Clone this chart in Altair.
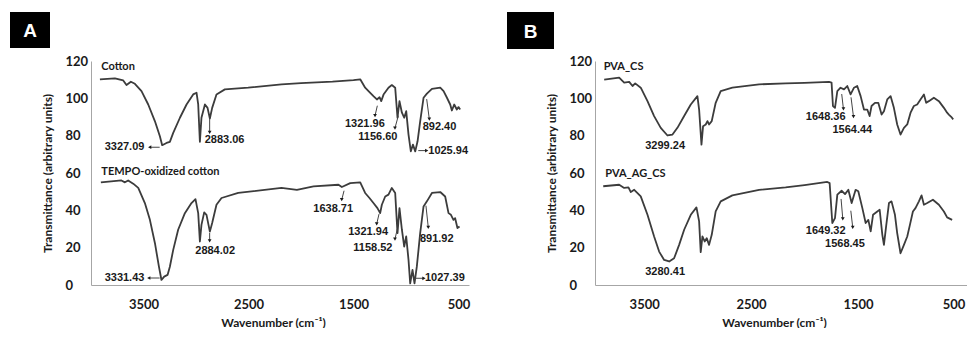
import altair as alt
import pandas as pd

# ---------------- Panel A: cotton / TEMPO-oxidized cotton ----------------
cotton_w = [3915, 3772, 3693, 3662, 3620, 3582, 3519, 3455, 3391, 3344, 3322, 3281, 3249, 3217, 3153,
            3090, 3027, 2995, 2979, 2963, 2948, 2915, 2890, 2868, 2846, 2805, 2725, 2503, 2186, 2000,
            1700, 1500, 1436, 1389, 1357, 1310, 1277, 1252, 1236, 1214, 1167, 1135, 1103, 1081, 1062,
            1039, 1017, 998, 976, 954, 934, 912, 890, 865, 833, 801, 753, 674, 642, 610, 579, 563,
            541, 516, 500, 484]
cotton_t = [110.2, 110.7, 109.6, 107.1, 108.9, 107.8, 103.9, 96.7, 87.7, 79.7, 74.9, 76.1, 76.7, 81.5, 89.6,
            96.7, 102.1, 103, 96.7, 76.7, 89.6, 96.7, 94.9, 89.2, 94.9, 102.1, 104.8, 105.7, 107.5, 108.2,
            109, 109.8, 110.2, 105.7, 103.9, 101.2, 99.4, 100.6, 98.5, 102, 105.7, 107.1, 105.7, 89.6, 98.5,
            92.3, 89.6, 93.1, 80.6, 71.6, 75.2, 71.6, 77, 87.7, 100.3, 102.5, 105.1, 105.7, 103.9, 100.3,
            96.7, 93.5, 96.7, 94, 95.3, 94]

tempo_w = [3906, 3710, 3677, 3646, 3598, 3550, 3487, 3439, 3391, 3353, 3329, 3303, 3271, 3249, 3217,
           3170, 3106, 3043, 3005, 2979, 2963, 2948, 2922, 2900, 2868, 2846, 2805, 2757, 2598, 2186,
           2039, 1881, 1643, 1611, 1531, 1436, 1389, 1348, 1310, 1272, 1246, 1230, 1198, 1167, 1135,
           1103, 1081, 1062, 1039, 1017, 998, 976, 960, 938, 919, 897, 865, 833, 801, 753, 674, 627,
           595, 572, 548, 532, 510, 490]
tempo_t = [55, 56, 55, 56, 54.3, 52, 43.9, 34.9, 22.4, 9.8, 2.7, 4.5, 5.4, 9.8, 18.8,
           29.6, 38.5, 43.9, 46, 38.5, 23.3, 32.2, 38.9, 37.6, 28.6, 33.2, 43, 46.6, 49.3, 52,
           51, 52.8, 53.7, 52.5, 54.6, 55, 49.3, 46.6, 43.9, 41.2, 38.5, 43, 47.4, 48.4, 52,
           49.3, 27.8, 41.2, 29.6, 20.6, 26, 13.4, 0.9, 8.1, 0.9, 9.8, 27.8, 42.1, 44.8, 49.3, 49.8, 47.4,
           38.5, 37.6, 34.9, 35.8, 30.5, 31.3]

# ---------------- Panel B: PVA_CS / PVA_AG_CS ----------------
pva_w = [3874, 3734, 3687, 3640, 3609, 3584, 3532, 3469, 3407, 3345, 3282, 3235, 3189, 3126, 3064,
         3002, 2986, 2964, 2949, 2924, 2908, 2893, 2868, 2831, 2784, 2675, 2425, 2177, 2000, 1771,
         1747, 1734, 1715, 1693, 1663, 1631, 1600, 1569, 1537, 1507, 1475, 1444, 1413, 1391, 1373,
         1341, 1310, 1279, 1257, 1226, 1195, 1164, 1133, 1102, 1070, 1039, 1008, 977, 946, 915,
         883, 862, 837, 790, 743, 696, 666, 650, 628, 609]
pva_t = [110, 111.1, 108.4, 108.8, 106.6, 108, 105.7, 98.5, 90.5, 84.2, 80.1, 80.6, 84.2, 90.5, 96.7,
         101.2, 94, 75.2, 85.1, 86, 87.8, 86, 87.8, 97.6, 103.9, 105.7, 107.5, 108, 108.3, 108.8,
         108.4, 95.9, 94.9, 103.9, 105.7, 104.8, 106.6, 102.1, 105.7, 106.6, 101.2, 94, 94, 90.5, 95.9,
         97.6, 97.6, 91.3, 93.1, 99.4, 101.2, 94.9, 86, 80.6, 84.2, 86, 92.3, 95.9, 96.7, 99.4,
         102.1, 97.6, 98.5, 100.3, 98.5, 94.9, 92.3, 91.3, 90.1, 88.7]

ag_w = [3883, 3734, 3687, 3647, 3625, 3593, 3532, 3469, 3407, 3360, 3313, 3266, 3220, 3173, 3126,
        3064, 3011, 2986, 2971, 2955, 2934, 2915, 2893, 2868, 2831, 2784, 2675, 2425, 2177, 2000,
        1787, 1765, 1740, 1715, 1693, 1653, 1621, 1590, 1559, 1522, 1497, 1459, 1428, 1403, 1381,
        1359, 1319, 1297, 1272, 1257, 1235, 1210, 1186, 1154, 1133, 1102, 1070, 1039, 1014, 986,
        962, 930, 905, 883, 852, 799, 743, 696, 666, 619]
ag_t = [52.9, 53.7, 52, 52.3, 49.8, 51, 47.5, 37.6, 26, 17.9, 13.4, 12.6, 14.3, 21.5, 29.6,
        37.6, 41.6, 34.1, 17.6, 26, 23.3, 25.1, 21.5, 26.9, 39.4, 44.8, 48, 51, 52.3, 53.5,
        55.2, 54.6, 33.2, 35.8, 48.4, 50.5, 48.7, 51, 43.9, 51, 50.2, 41.2, 33.2, 34.9, 28.7,
        37.6, 39.4, 40.3, 26.9, 21.5, 32.2, 43.9, 44.8, 37.6, 27.8, 17, 21.5, 26, 32.2, 39.4,
        41.2, 44.8, 48, 43, 43.9, 45.7, 43, 39.4, 36.2, 34.9]

# ---------------- Text labels (anchor in data units) ----------------
a_names = ["Cotton", "TEMPO-oxidized cotton"]
a_names_w = [3902, 3902]
a_names_t = [116.6, 60.4]

a_peaks = ["3327.09", "2883.06", "1321.96", "1156.60", "892.40", "1025.94",
           "3331.43", "2884.02", "1638.71", "1321.94", "1158.52", "891.92", "1027.39"]
a_peaks_w = [3870, 2917, 1581, 1454, 841, 788, 3870, 3007, 1883, 1550, 1502, 867, 819]
a_peaks_t = [73.8, 77.7, 86.25, 79.4, 84.8, 72.0, 3.75, 18.4, 40.7, 28.6, 19.7, 24.6, 3.6]

a_arrow_w1 = [2870, 1273, 1073, 803, 2870, 1590, 1257, 1083, 810, 3346, 3346, 883, 914]
a_arrow_t1 = [88.9, 96.05, 90.7, 99.6, 27.9, 50.5, 38.0, 30.0, 42.5, 73.8, 3.75, 72.0, 3.6]
a_arrow_w2 = [2870, 1295, 1105, 778, 2870, 1612, 1279, 1105, 788, 3441, 3450, 803, 829]
a_arrow_t2 = [81.8, 90.7, 84.1, 88.9, 23.7, 45.7, 32.7, 24.6, 30.9, 73.8, 3.75, 72.0, 3.6]
a_arrow_dir = ["down", "down", "down", "down", "down", "down", "down", "down", "down",
               "left", "left", "right", "right"]

b_names = ["PVA_CS", "PVA_AG_CS"]
b_names_w = [3879, 3864]
b_names_t = [116.6, 59.5]

b_peaks = ["3299.24", "1648.36", "1564.44", "3280.41", "1649.32", "1568.45"]
b_peaks_w = [3490, 1988, 1739, 3490, 1988, 1808]
b_peaks_t = [74.6, 89.8, 83.0, 6.8, 29.1, 22.0]

b_arrow_w1 = [1652, 1565, 1658, 1567]
b_arrow_t1 = [102.3, 100.55, 46.1, 39.8]
b_arrow_w2 = [1636, 1542, 1642, 1549]
b_arrow_t2 = [94.3, 90.2, 35.4, 30.9]
b_arrow_dir = ["down", "down", "down", "down"]

y_ticks = [0, 20, 40, 60, 80, 100, 120]
x_ticks = [3500, 2500, 1500, 500]

LINE = "#3c3c3c"
AXIS = "#a6a6a6"
TXT = "#1a1a1a"


def panel(letter, series, names, peaks, arrows, x_dom, width, box, flush):
    spec = pd.concat([pd.DataFrame({"w": w, "t": t, "s": s}) for (w, t, s) in series])
    x_enc = alt.X("w:Q", scale=alt.Scale(domain=x_dom, reverse=True, nice=False, zero=False),
                  axis=alt.Axis(values=x_ticks, format="d", title="Wavenumber (cm\u207b\u00b9)",
                                grid=False, ticks=False, tickSize=0, domainColor=AXIS,
                                labelOverlap=False, labelFlush=flush,
                                labelFont="Lato", labelFontWeight="bold", labelFontSize=13,
                                labelColor=TXT, labelPadding=13,
                                titleFont="Lato", titleFontWeight="bold", titleFontSize=12,
                                titleColor=TXT, titlePadding=6, titleX=width / 2 - 7))
    y_enc = alt.Y("t:Q", scale=alt.Scale(domain=[0, 120], nice=False, zero=False),
                  axis=alt.Axis(values=y_ticks, title="Transmittance (arbitrary units)",
                                grid=False, ticks=False, tickSize=0, domainColor=AXIS,
                                labelOverlap=False, labelAlign="left", labelPadding=26,
                                labelFont="Lato", labelFontWeight="bold", labelFontSize=13,
                                labelColor=TXT,
                                titleFont="Lato", titleFontWeight="bold", titleFontSize=12,
                                titleColor=TXT, titlePadding=11))
    lines = alt.Chart(spec).mark_line(color=LINE, strokeWidth=1.8, strokeJoin="round").encode(
        x=x_enc, y=y_enc, detail="s:N")

    ndf = pd.DataFrame({"w": names[1], "t": names[2], "label": names[0]})
    name_txt = alt.Chart(ndf).mark_text(align="left", baseline="middle", font="Lato",
                                        fontWeight="bold", fontSize=11, color=TXT).encode(
        x=x_enc, y=y_enc, text="label:N")

    pdf = pd.DataFrame({"w": peaks[1], "t": peaks[2], "label": peaks[0]})
    peak_txt = alt.Chart(pdf).mark_text(align="left", baseline="middle", font="Liberation Sans",
                                        fontWeight="bold", fontSize=11, color=TXT).encode(
        x=x_enc, y=y_enc, text="label:N")

    adf = pd.DataFrame({"w": arrows[0], "t": arrows[1], "w2": arrows[2], "t2": arrows[3]})
    arrow_rule = alt.Chart(adf).mark_rule(color="#444444", strokeWidth=1).encode(
        x=x_enc, y=y_enc, x2="w2:Q", y2="t2:Q")
    hdf = pd.DataFrame({"w": arrows[2], "t": arrows[3], "dir": arrows[4]})
    arrow_head = alt.Chart(hdf).mark_point(filled=True, size=14, color=TXT, opacity=1).encode(
        x=x_enc, y=y_enc,
        shape=alt.Shape("dir:N", legend=None,
                        scale=alt.Scale(domain=["down", "left", "right"],
                                        range=["triangle-down", "triangle-left", "triangle-right"])))

    bdf = pd.DataFrame({"label": [letter]})
    box_rect = alt.Chart(bdf).mark_rect(color="black").encode(
        x=alt.value(box[0]), x2=alt.value(box[1]), y=alt.value(box[2]), y2=alt.value(box[3]))
    box_txt = alt.Chart(bdf).mark_text(color="white", font="Liberation Sans", fontWeight="bold",
                                       fontSize=19, align="center", baseline="middle").encode(
        x=alt.value((box[0] + box[1]) / 2), y=alt.value((box[2] + box[3]) / 2 + 1), text="label:N")

    return alt.layer(lines, arrow_rule, arrow_head, name_txt, peak_txt, box_rect, box_txt).properties(
        width=width, height=224)


panel_a = panel("A",
                [(cotton_w, cotton_t, "Cotton"), (tempo_w, tempo_t, "TEMPO")],
                (a_names, a_names_w, a_names_t),
                (a_peaks, a_peaks_w, a_peaks_t),
                (a_arrow_w1, a_arrow_t1, a_arrow_w2, a_arrow_t2, a_arrow_dir),
                [400, 4000], 378, (-81, -41, -49, -13), False)

panel_b = panel("B",
                [(pva_w, pva_t, "PVA_CS"), (ag_w, ag_t, "PVA_AG_CS")],
                (b_names, b_names_w, b_names_t),
                (b_peaks, b_peaks_w, b_peaks_t),
                (b_arrow_w1, b_arrow_t1, b_arrow_w2, b_arrow_t2, b_arrow_dir),
                [480, 3960], 372, (-88, -41, -49, -12), 6)

chart = alt.hconcat(panel_a, panel_b, spacing=37).properties(
    padding={"left": 2, "top": 4, "right": 0, "bottom": 0},
    background="white"
).configure_view(stroke=None).configure_axis(labelOverlap=False)

chart.save("out.html", embed_options={"renderer": "svg", "actions": False})
